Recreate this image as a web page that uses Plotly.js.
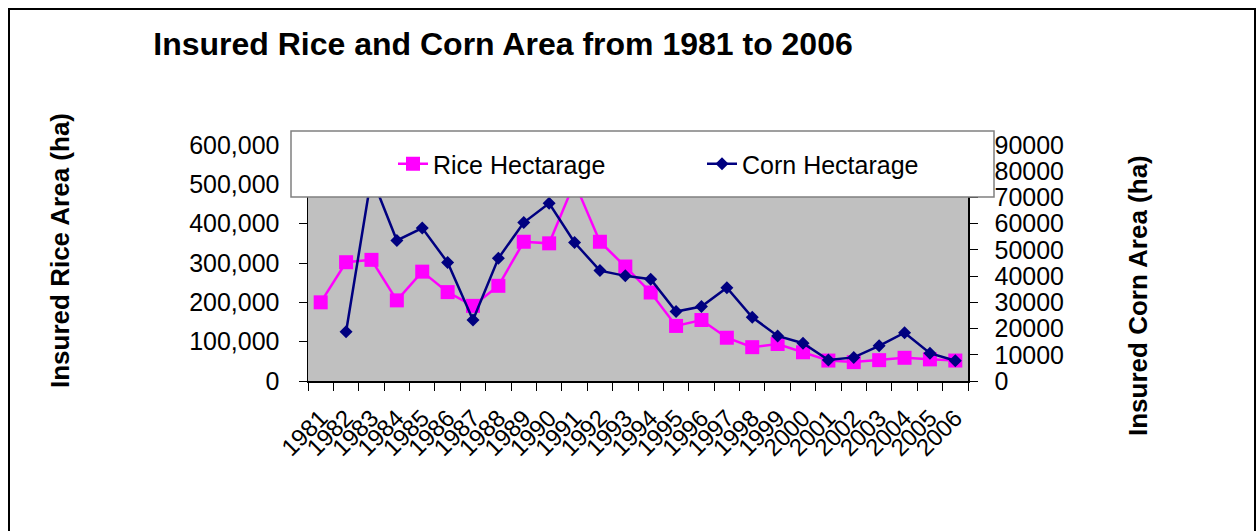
<!DOCTYPE html>
<html>
<head>
<meta charset="utf-8">
<script src="https://cdn.plot.ly/plotly-3.0.1.min.js"></script>
<style>
html,body{margin:0;padding:0;background:#fff;}
#chart{width:1257px;height:531px;}
</style>
</head>
<body>
<div id="chart"></div>
<script>
const years = ["1981","1982","1983","1984","1985","1986","1987","1988","1989","1990","1991","1992","1993","1994","1995","1996","1997","1998","1999","2000","2001","2002","2003","2004","2005","2006"];
const riceHectarage = [200000,302000,308000,205000,278000,226000,191000,242000,354000,350000,505000,354000,291000,225000,140000,155000,110000,86000,94000,73000,52000,48000,53000,59000,55000,52000];
const cornHectarage = [null,18800,78000,53600,58300,45200,23300,46800,60400,67800,52800,42100,40100,38800,26500,28400,35600,24300,17200,14400,8000,9000,13400,18400,10600,7700];
const riceTicks = [0,100000,200000,300000,400000,500000,600000];
const cornTicks = [0,10000,20000,30000,40000,50000,60000,70000,80000,90000];

const FONT = "Liberation Sans, Arial, Helvetica, sans-serif";

// plot area in px
const L = 308, R = 968, T = 145, B = 381, W = 1257, H = 531;
const pw = R - L, ph = B - T;
const px = v => (v - L) / pw;
const py = v => (B - v) / ph;

const traces = [
  {
    x: years, y: riceHectarage, name: "Rice Hectarage", type: "scatter", mode: "lines+markers",
    line: {color: "#FF00FF", width: 2.5},
    marker: {symbol: "square", size: 14, color: "#FF00FF"},
    yaxis: "y", legend: "legend"
  },
  {
    x: years, y: cornHectarage, name: "Corn Hectarage", type: "scatter", mode: "lines+markers",
    line: {color: "#000080", width: 2.5},
    marker: {symbol: "diamond", size: 10, color: "#000080"},
    yaxis: "y2", legend: "legend2", connectgaps: false
  }
];

const layout = {
  width: W, height: H,
  margin: {l: L, r: W - R, t: T, b: H - B, pad: 0},
  paper_bgcolor: "#ffffff",
  plot_bgcolor: "#C0C0C0",
  font: {family: FONT, color: "#000000", size: 24},
  showlegend: true,
  title: {
    text: "<b>Insured Rice and Corn Area from 1981 to 2006</b>",
    font: {family: FONT, size: 32, color: "#000"},
    xref: "paper", x: px(503), xanchor: "center",
    yref: "container", y: 1 - 44 / H, yanchor: "middle"
  },
  xaxis: {
    type: "category",
    range: [-0.5, years.length - 0.5],
    tickmode: "array", tickvals: years, ticktext: years,
    tickson: "boundaries",
    ticks: "outside", ticklen: 8, tickcolor: "#000", tickwidth: 1,
    tickangle: -45,
    ticklabelstandoff: 12,
    tickfont: {family: FONT, size: 24, color: "#000"},
    showline: true, linecolor: "#000", linewidth: 1.5,
    showgrid: false, zeroline: false, automargin: false,
    fixedrange: true
  },
  yaxis: {
    range: [0, 600000],
    tickvals: riceTicks, tickformat: ",d",
    ticks: "outside", ticklen: 8, tickcolor: "#000",
    ticklabelstandoff: 14,
    tickfont: {family: FONT, size: 25, color: "#000"},
    showline: true, linecolor: "#000", linewidth: 1.5,
    showgrid: false, zeroline: false, automargin: false
  },
  yaxis2: {
    overlaying: "y", side: "right",
    range: [0, 90000],
    tickvals: cornTicks, tickformat: "d",
    ticks: "outside", ticklen: 8, tickcolor: "#000",
    ticklabelstandoff: 12,
    tickfont: {family: FONT, size: 25, color: "#000"},
    showline: true, linecolor: "#000", linewidth: 1.5,
    showgrid: false, zeroline: false, automargin: false
  },
  legend: {
    orientation: "h", x: px(393), xanchor: "left", y: py(164), yanchor: "middle",
    bgcolor: "rgba(0,0,0,0)", borderwidth: 0,
    font: {family: FONT, size: 25, color: "#000"}
  },
  legend2: {
    orientation: "h", x: px(702), xanchor: "left", y: py(164), yanchor: "middle",
    bgcolor: "rgba(0,0,0,0)", borderwidth: 0,
    font: {family: FONT, size: 25, color: "#000"}
  },
  annotations: [
    {text: "<b>Insured Rice Area (ha)</b>", textangle: -90, showarrow: false,
     xref: "paper", yref: "paper", x: px(60), y: py(251), xanchor: "center", yanchor: "middle",
     font: {family: FONT, size: 26, color: "#000"}},
    {text: "<b>Insured Corn Area (ha)</b>", textangle: -90, showarrow: false,
     xref: "paper", yref: "paper", x: px(1138), y: py(296), xanchor: "center", yanchor: "middle",
     font: {family: FONT, size: 26, color: "#000"}}
  ],
  shapes: [
    {type: "rect", xref: "paper", yref: "paper", layer: "above",
     x0: px(291), x1: px(994), y0: py(197), y1: py(131),
     fillcolor: "#ffffff", line: {color: "#808080", width: 1.5}},
    {type: "rect", xref: "paper", yref: "paper", layer: "above",
     x0: px(9), x1: px(1255), y0: py(545), y1: py(9),
     fillcolor: "rgba(0,0,0,0)", line: {color: "#000000", width: 2}}
  ]
};

Plotly.newPlot("chart", traces, layout, {displayModeBar: false, staticPlot: true});
</script>
</body>
</html>
